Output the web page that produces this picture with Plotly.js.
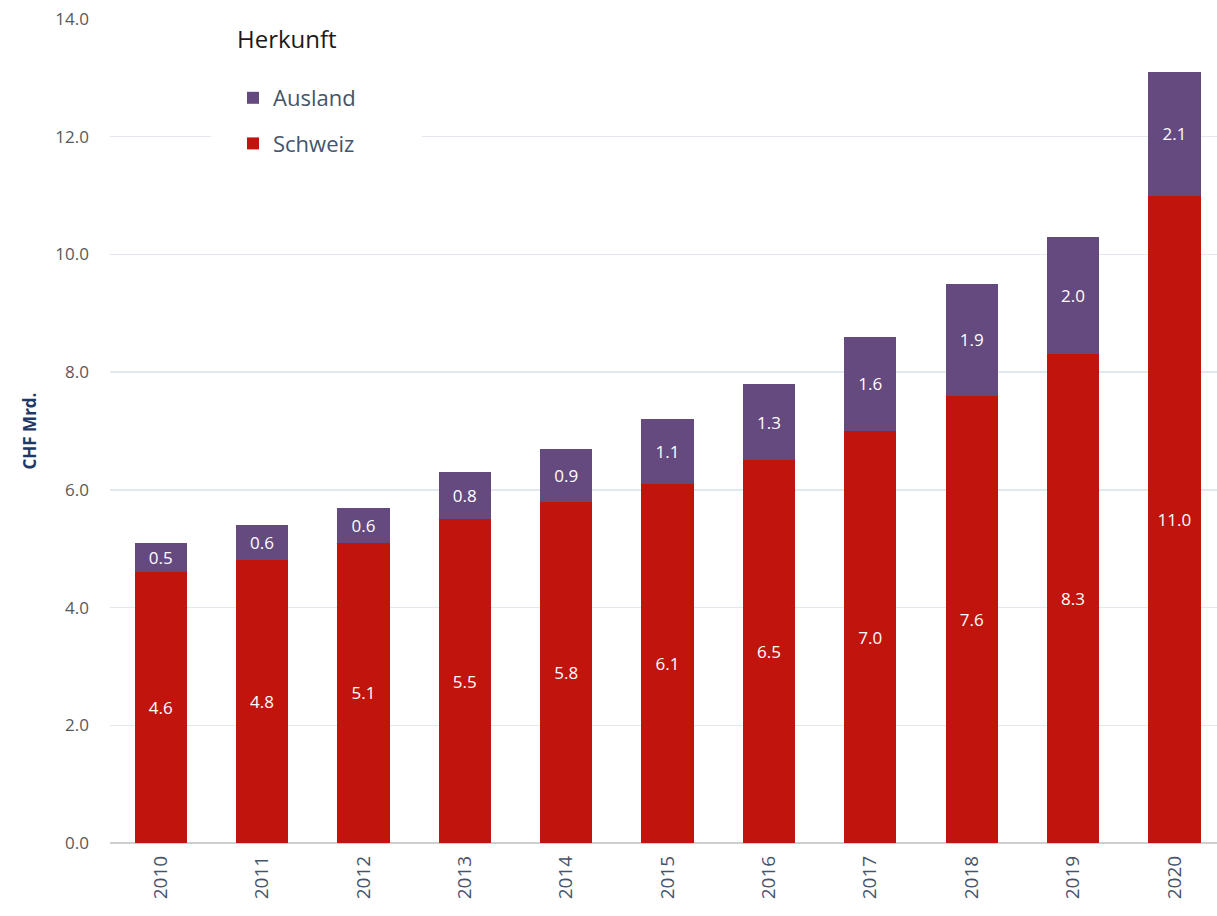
<!DOCTYPE html>
<html>
<head>
<meta charset="utf-8">
<script src="https://cdn.plot.ly/plotly-3.0.1.min.js"></script>
<style>html,body{margin:0;padding:0;background:#fff;}#chart{width:1217px;height:916px;}</style>
</head>
<body>
<div id="chart"></div>
<script>
var years = ['2010','2011','2012','2013','2014','2015','2016','2017','2018','2019','2020'];
var schweiz = [4.6, 4.8, 5.1, 5.5, 5.8, 6.1, 6.5, 7.0, 7.6, 8.3, 11.0];
var ausland = [0.5, 0.6, 0.6, 0.8, 0.9, 1.1, 1.3, 1.6, 1.9, 2.0, 2.1];
var yTicks = [0, 2, 4, 6, 8, 10, 12, 14];

var W = 1217, H = 916;
var mL = 110, mR = 0, mT = 19, mB = 73;
var pw = W - mL - mR, ph = H - mT - mB;
function px(x){ return (x - mL) / pw; }
function py(y){ return 1 - (y - mT) / ph; }

var FONT = '"Open Sans", "Noto Sans", sans-serif';

var traces = [
  {
    type: 'bar', name: 'Schweiz', x: years, y: schweiz,
    marker: {color: '#C0140C'},
    text: schweiz.map(function(v){return v.toFixed(1);}),
    textposition: 'inside', insidetextanchor: 'middle',
    textfont: {color: '#ffffff', size: 17, family: FONT},
    legendgroup: 'b', legendrank: 2, hoverinfo: 'x+y'
  },
  {
    type: 'bar', name: 'Ausland', x: years, y: ausland,
    marker: {color: '#644A7E'},
    text: ausland.map(function(v){return v.toFixed(1);}),
    textposition: 'inside', insidetextanchor: 'middle',
    textfont: {color: '#ffffff', size: 17, family: FONT},
    legendgroup: 'a', legendrank: 1, hoverinfo: 'x+y'
  }
];

var layout = {
  width: W, height: H,
  margin: {l: mL, r: mR, t: mT, b: mB, pad: 0},
  barmode: 'stack',
  bargap: 0.485,
  paper_bgcolor: '#ffffff', plot_bgcolor: '#ffffff',
  font: {family: FONT},
  xaxis: {
    type: 'category', range: [-0.5, 10.42],
    tickangle: -90,
    tickfont: {size: 19, color: '#44546A', family: FONT},
    showgrid: false, showline: false, ticks: '',
    ticklabelstandoff: 8
  },
  yaxis: {
    range: [0, 14], tickvals: yTicks,
    ticktext: yTicks.map(function(v){return v.toFixed(1);}),
    tickfont: {size: 17, color: '#595959', family: FONT},
    showgrid: true, gridcolor: '#E3E8EE', gridwidth: 1.3,
    zeroline: true, zerolinecolor: '#CFCFCF', zerolinewidth: 1.5,
    showline: false, ticks: '',
    ticklabelstandoff: 20,
    title: {text: '<b>CHF Mrd.</b>', font: {size: 17, color: '#1F3864', family: FONT}, standoff: 14}
  },
  showlegend: true,
  legend: {
    x: px(233), y: py(77), xanchor: 'left', yanchor: 'top',
    bgcolor: 'rgba(0,0,0,0)', borderwidth: 0,
    traceorder: 'grouped', tracegroupgap: 14,
    font: {size: 22, color: '#44546A', family: FONT}
  },
  shapes: [
    {type: 'rect', xref: 'paper', yref: 'paper', layer: 'above',
     x0: px(211), x1: px(422), y0: py(0), y1: py(176),
     fillcolor: '#ffffff', line: {width: 0}}
  ],
  annotations: [
    {xref: 'paper', yref: 'paper', x: px(235), y: py(38), xanchor: 'left', yanchor: 'middle',
     text: 'Herkunft', showarrow: false, font: {size: 24, color: '#1a1a1a', family: FONT}}
  ]
};

Plotly.newPlot('chart', traces, layout, {displayModeBar: false, staticPlot: true});
</script>
</body>
</html>
